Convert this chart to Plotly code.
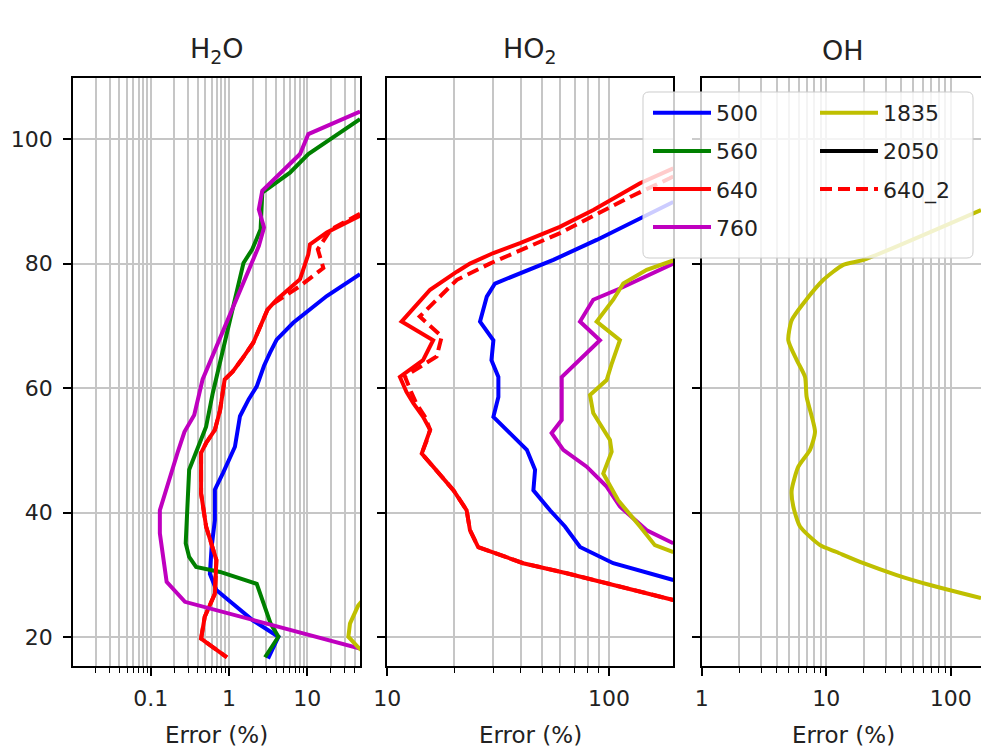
import math
import re
import plotly.graph_objects as go

W, H = 981, 749

# ---------------- data: altitude (km) and retrieval error (%) ----------------
# H2O panel
h2o_500_alt = [78.3, 74.8, 70.5, 67.8, 65.7, 63.6, 60.3, 58.2, 55.5, 50.6, 46.4, 43.7, 38.8, 34.5, 30.2, 27.6, 25.4, 22.7, 20.1, 16.6]
h2o_500_err = [47, 17.7, 6.6, 4.06, 3.34, 2.8, 2.26, 1.78, 1.38, 1.19, 0.84, 0.66, 0.66, 0.60, 0.57, 0.69, 1.12, 2.03, 4.27, 3.15]

h2o_560_alt = [103.2, 97.6, 94.6, 91.4, 85.5, 82.3, 80.1, 79.0, 64.6, 59.2, 53.8, 50.6, 46.9, 43.1, 35.1, 32.9, 31.3, 30.5, 28.6, 22.2, 20.1, 16.8]
h2o_560_err = [47, 10.3, 6.0, 2.66, 2.53, 1.98, 1.53, 1.46, 0.77, 0.62, 0.51, 0.40, 0.31, 0.30, 0.28, 0.31, 0.38, 0.77, 2.26, 3.4, 4.27, 2.88]

h2o_640_alt = [87.7, 85.0, 83.1, 81.5, 77.5, 74.2, 72.6, 70.0, 67.3, 64.6, 62.7, 61.4, 56.5, 53.3, 51.2, 49.6, 43.1, 37.8, 32.4, 27.0, 23.3, 19.8, 16.8]
h2o_640_err = [47, 17.7, 10.8, 10.3, 8.07, 4.06, 3.1, 2.5, 2.04, 1.45, 1.12, 0.88, 0.77, 0.66, 0.51, 0.44, 0.44, 0.51, 0.69, 0.66, 0.49, 0.44, 0.94]

h2o_760_alt = [104.4, 100.8, 97.6, 91.7, 88.7, 85.8, 82.8, 64.6, 61.4, 55.7, 53.0, 49.6, 43.7, 40.4, 36.7, 28.9, 25.7, 18.2]
h2o_760_err = [47, 10.3, 8.07, 2.66, 2.4, 2.8, 2.4, 0.60, 0.46, 0.36, 0.27, 0.22, 0.155, 0.131, 0.131, 0.160, 0.274, 47]

h2o_1835_alt = [27.0, 25.1, 22.2, 20.1, 18.4, 17.0]
h2o_1835_err = [60, 44.5, 35, 33.4, 44.5, 60]

h2o_640b_alt = [88.0, 85.5, 82.3, 79.3, 76.4, 73.7, 72.6, 70.0, 67.3, 64.6, 62.7, 61.4, 56.5, 53.3, 51.2, 49.6, 43.1, 37.8, 32.4, 27.0, 23.3, 19.8, 16.8]
h2o_640b_err = [47, 20.0, 13.6, 16.0, 8.07, 3.8, 3.1, 2.5, 2.04, 1.45, 1.12, 0.88, 0.77, 0.66, 0.51, 0.44, 0.44, 0.51, 0.69, 0.66, 0.49, 0.44, 0.94]

# HO2 panel
ho2_500_alt = [89.9, 87.3, 83.8, 80.6, 78.4, 76.8, 74.7, 70.7, 67.7, 64.5, 61.8, 58.6, 55.4, 53.3, 50.1, 46.9, 43.6, 40.4, 37.8, 34.5, 31.9, 29.2]
ho2_500_err = [195, 140, 88, 56.1, 39.7, 30.6, 28.1, 26.2, 30.1, 29.5, 31.7, 31.7, 30.1, 34.6, 42.6, 46.4, 45.6, 54.2, 63.3, 74, 104.5, 195]

ho2_640_alt = [95.3, 92.9, 88.6, 85.9, 83.3, 81.7, 80.0, 78.7, 75.8, 70.7, 67.7, 64.5, 61.8, 59.4, 57.6, 55.4, 53.3, 51.7, 49.5, 47.4, 43.6, 40.4, 37.2, 34.5, 31.9, 30.3, 26.0]
ho2_640_err = [195, 138, 85, 60, 39.7, 30.1, 23.6, 20.6, 15.6, 11.6, 16.1, 14.5, 11.4, 12.2, 13.1, 14.5, 15.6, 15.1, 14.3, 16.1, 19.9, 22.8, 23.6, 25.7, 41, 64.4, 195]

ho2_760_alt = [80.0, 76.0, 74.2, 70.7, 67.7, 64.5, 61.8, 54.9, 52.8, 50.1, 47.4, 44.2, 41.0, 37.2, 35.1]
ho2_760_err = [195, 112, 84.9, 74, 91, 73, 61.2, 61.2, 55.1, 62.2, 79.3, 97.6, 112, 148, 195]

ho2_1835_alt = [80.5, 79.0, 76.8, 74.2, 70.7, 67.7, 64.0, 61.3, 58.9, 56.0, 51.7, 49.8, 46.3, 42.0, 37.8, 34.8, 33.7]
ho2_1835_err = [195, 148, 116, 104.5, 88, 112, 103, 97.6, 82.1, 84.9, 101, 102.8, 94.2, 110, 138, 161, 195]

ho2_640b_alt = [94.0, 93.7, 90.7, 84.9, 80.0, 77.4, 71.5, 68.3, 65.1, 61.9, 59.4, 57.6, 55.4, 53.3, 51.7, 49.5, 47.4, 43.6, 40.4, 37.2, 34.5, 31.9, 30.3, 26.0]
ho2_640b_err = [195, 188, 124.5, 60.1, 29.0, 20.6, 14.0, 17.6, 16.7, 12.0, 12.8, 13.5, 14.8, 15.6, 15.1, 14.3, 16.1, 19.9, 22.8, 23.6, 25.7, 41, 64.4, 195]

# OH panel
oh_1835_alt = [88.6, 80.6, 79.8, 77.4, 73.6, 70.9, 67.7, 64.5, 61.8, 58.6, 53.0, 50.1, 47.4, 43.6, 41.0, 37.8, 34.8, 33.7, 31.9, 30.0, 28.4, 26.3]
oh_1835_err = [175, 19.9, 13.7, 9.5, 6.55, 5.28, 4.96, 5.8, 6.76, 6.96, 8.13, 7.41, 5.97, 5.28, 5.44, 6.16, 8.92, 12.1, 19.9, 36.8, 68.2, 175]

# 2050 has no valid profile inside the plotted ranges
tp_2050_alt = [None]
tp_2050_err = [None]

panel_titles = ["H<sub>2</sub>O", "HO<sub>2</sub>", "OH"]
x_label = "Error (%)"
y_ticks = [20, 40, 60, 80, 100]

# ---------------- styling ----------------
colors = {"500": "#0000ff", "560": "#008000", "640": "#ff0000", "760": "#bf00bf",
          "1835": "#bfbf00", "2050": "#000000", "640_2": "#ff0000"}
FONT = "DejaVu Sans"
TXT = "#222222"
GRID = "#c6c6c6"
LW = 4


def fx(p):
    return p / W


def fy(p):
    return 1 - p / H


ytop, ybot = 78.3, 666.0
panels = [
    dict(x0=73.0, x1=360.0, rng=[0.0102, 47.0]),
    dict(x0=387.3, x1=673.3, rng=[10.0, 195.0]),
    dict(x0=701.7, x1=981.0, rng=[1.0, 175.0]),
]

series = [
    # (panel index, name, alt, err, dashed, legend, smooth)
    (0, "500", h2o_500_alt, h2o_500_err, False, "legend", False),
    (0, "560", h2o_560_alt, h2o_560_err, False, "legend", False),
    (0, "640", h2o_640_alt, h2o_640_err, False, "legend", False),
    (0, "760", h2o_760_alt, h2o_760_err, False, "legend", False),
    (0, "1835", h2o_1835_alt, h2o_1835_err, False, "legend2", False),
    (0, "2050", tp_2050_alt, tp_2050_err, False, "legend2", False),
    (0, "640_2", h2o_640b_alt, h2o_640b_err, True, "legend2", False),
    (1, "500", ho2_500_alt, ho2_500_err, False, "legend", False),
    (1, "640", ho2_640_alt, ho2_640_err, False, "legend", False),
    (1, "760", ho2_760_alt, ho2_760_err, False, "legend", False),
    (1, "1835", ho2_1835_alt, ho2_1835_err, False, "legend2", False),
    (1, "640_2", ho2_640b_alt, ho2_640b_err, True, "legend2", False),
    (2, "1835", oh_1835_alt, oh_1835_err, False, "legend2", True),
]

fig = go.Figure()
seen = set()
for idx, name, alt, err, dashed, leg, smooth in series:
    sfx = "" if idx == 0 else str(idx + 1)
    line = dict(color=colors[name], width=LW, dash="12px,6px" if dashed else "solid")
    if smooth:
        line.update(shape="spline", smoothing=0.6)
    fig.add_trace(go.Scatter(
        x=err, y=alt, mode="lines", name=name, line=line,
        xaxis="x" + sfx, yaxis="y" + sfx,
        legend=leg, legendgroup=name, showlegend=name not in seen,
    ))
    seen.add(name)

layout = dict(
    width=W, height=H,
    margin=dict(l=0, r=0, t=0, b=0),
    paper_bgcolor="white", plot_bgcolor="white",
    font=dict(family=FONT, size=22, color=TXT),
    showlegend=True,
)

for i, p in enumerate(panels):
    sfx = "" if i == 0 else str(i + 1)
    layout["xaxis" + sfx] = dict(
        type="log", range=[math.log10(v) for v in p["rng"]],
        domain=[fx(p["x0"]), fx(p["x1"])], anchor="y" + sfx,
        tickmode="linear", tick0=0, dtick=1,
        ticks="outside", ticklen=8, tickwidth=1.6, tickcolor="black",
        showgrid=True, gridcolor=GRID, gridwidth=1.8,
        minor=dict(dtick="D1", ticks="outside", ticklen=5, tickwidth=1.3, tickcolor="black",
                   showgrid=True, gridcolor=GRID, gridwidth=1.8),
        showline=True, linecolor="black", linewidth=1.8, mirror=True,
        zeroline=False, automargin=False,
        tickfont=dict(family=FONT, size=22, color=TXT),
        ticklabelstandoff=4,
    )
    layout["yaxis" + sfx] = dict(
        range=[15.4, 109.75], domain=[fy(ybot), fy(ytop)], anchor="x" + sfx,
        tickmode="array", tickvals=y_ticks, showticklabels=(i == 0),
        ticks="outside", ticklen=8, tickwidth=1.6, tickcolor="black",
        showgrid=True, gridcolor=GRID, gridwidth=1.8,
        showline=True, linecolor="black", linewidth=1.8, mirror=(i < 2),
        zeroline=False, automargin=False,
        tickfont=dict(family=FONT, size=22, color=TXT),
        ticklabelstandoff=6,
    )

annotations = []
for i, p in enumerate(panels):
    cx = (p["x0"] + p["x1"]) / 2 if i < 2 else (p["x0"] + 985) / 2
    annotations.append(dict(text=panel_titles[i], x=fx(cx), y=fy(50), xref="paper", yref="paper",
                            xanchor="center", yanchor="middle", showarrow=False,
                            font=dict(family=FONT, size=27, color=TXT)))
    annotations.append(dict(text=x_label, x=fx(cx), y=fy(735), xref="paper", yref="paper",
                            xanchor="center", yanchor="middle", showarrow=False,
                            font=dict(family=FONT, size=23, color=TXT)))
layout["annotations"] = annotations

# shared legend frame (semi-transparent, rounded corners), built in pixels then mapped to paper
x0p, x1p, y0p, y1p, r = 643, 973, 92, 258, 6
path = (f"M{x0p + r},{y0p} L{x1p - r},{y0p} Q{x1p},{y0p} {x1p},{y0p + r} "
        f"L{x1p},{y1p - r} Q{x1p},{y1p} {x1p - r},{y1p} L{x0p + r},{y1p} "
        f"Q{x0p},{y1p} {x0p},{y1p - r} L{x0p},{y0p + r} Q{x0p},{y0p} {x0p + r},{y0p} Z")


def conv(m):
    a, b = float(m.group(1)), float(m.group(2))
    return f"{fx(a):.5f},{fy(b):.5f}"


paper_path = re.sub(r"([0-9.]+),([0-9.]+)", conv, path)
layout["shapes"] = [dict(type="path", path=paper_path, xref="paper", yref="paper",
                         fillcolor="rgba(255,255,255,0.8)", line=dict(color="#cccccc", width=1),
                         layer="above")]

leg_common = dict(bgcolor="rgba(0,0,0,0)", borderwidth=0, traceorder="grouped",
                  tracegroupgap=6.5, itemwidth=58, yanchor="top", xanchor="left",
                  font=dict(family=FONT, size=22, color=TXT))
layout["legend"] = dict(x=fx(648), y=fy(92), **leg_common)
layout["legend2"] = dict(x=fx(815), y=fy(92), **leg_common)

fig.update_layout(**layout)
fig.write_html("out.html")
